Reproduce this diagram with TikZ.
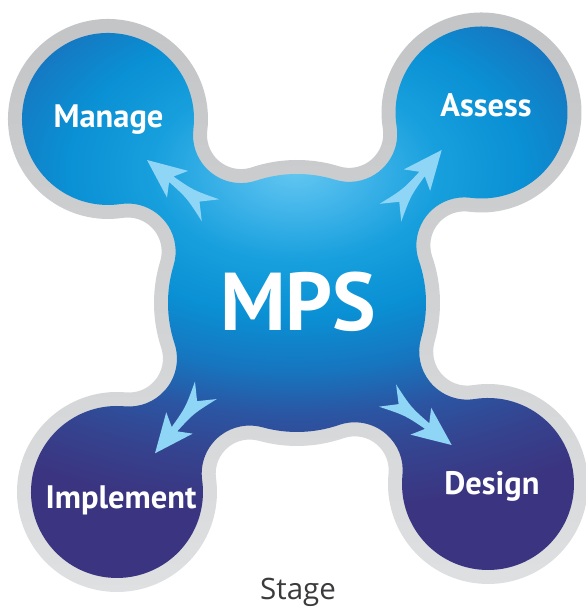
\documentclass[tikz,border=0pt]{standalone}
\usepackage{fontspec}
\setmainfont{PT Sans}
\newfontfamily\stagefont{Open Sans}
\definecolor{hlA}{HTML}{63C7F1}
\definecolor{hlB}{HTML}{44B6EA}
\definecolor{hlC}{HTML}{179FDD}
\definecolor{hlD}{HTML}{0A90D4}
\definecolor{hlE}{HTML}{1676C0}
\definecolor{hlF}{HTML}{2B55A2}
\definecolor{hlG}{HTML}{35438F}
\definecolor{hlH}{HTML}{3B3581}
\definecolor{ringtop}{HTML}{C3C4C6}
\definecolor{ringbot}{HTML}{DFE0E2}
\definecolor{arrowblue}{HTML}{8FD5F6}
\definecolor{stagegray}{HTML}{3B3B3D}
\pgfdeclareradialshading{blobshade}{\pgfpoint{0bp}{0bp}}{%
 color(0bp)=(hlA); color(2.08bp)=(hlB); color(5bp)=(hlC); color(7.92bp)=(hlD);
 color(10.83bp)=(hlE); color(13.33bp)=(hlF); color(15.83bp)=(hlG); color(18.5bp)=(hlH);
 color(50bp)=(hlH)}
\def\ccx{297}\def\ccy{306}
\def\Ak{1.77}\def\Bk{1.34}
\newcommand\mkang[4]{%
 \pgfmathsetmacro\tmpD{veclen((#2-\ccx)/100,(#3-\ccy)/100)}%
 \pgfmathsetmacro\tmpT{atan2(#3-\ccy,#2-\ccx)+#4}%
 \pgfmathsetmacro\tmpP{acos((\tmpD*\tmpD+\Ak*\Ak-\Bk*\Bk)/(2*\tmpD*\Ak))}%
 \pgfmathsetmacro\tmpS{acos((\tmpD*\tmpD+\Bk*\Bk-\Ak*\Ak)/(2*\tmpD*\Bk))}%
 \expandafter\xdef\csname th#1\endcsname{\tmpT}%
 \expandafter\xdef\csname ph#1\endcsname{\tmpP}%
 \expandafter\xdef\csname ps#1\endcsname{\tmpS}%
}
\mkang{A}{481.5}{496.5}{0}
\mkang{M}{108}{490}{0}
\mkang{I}{117}{117}{360}
\mkang{D}{488}{125}{360}
% one lobe: fillet, satellite arc, fillet (#1 = lobe letter, #2 sat radius, #3 fillet radius)
\newcommand\lobe[3]{%
 arc[start angle=\csname th#1\endcsname+180-\csname ph#1\endcsname, end angle=\csname th#1\endcsname+\csname ps#1\endcsname, radius=#3]
 arc[start angle=\csname th#1\endcsname+180+\csname ps#1\endcsname, end angle=\csname th#1\endcsname+540-\csname ps#1\endcsname, radius=#2]
 arc[start angle=\csname th#1\endcsname-\csname ps#1\endcsname, end angle=\csname th#1\endcsname-180+\csname ph#1\endcsname, radius=#3]}
\newcommand\blobpath[3]{%
 (\ccx,\ccy) ++(\thA-\phA:#2)
 \lobe{A}{#1}{#3}
 arc[start angle=\thA+\phA, end angle=\thM-\phM, radius=#2]
 \lobe{M}{#1}{#3}
 arc[start angle=\thM+\phM, end angle=\thI-\phI, radius=#2]
 \lobe{I}{#1}{#3}
 arc[start angle=\thI+\phI, end angle=\thD-\phD, radius=#2]
 \lobe{D}{#1}{#3}
 arc[start angle=\thD+\phD, end angle=\thA+360-\phA, radius=#2] -- cycle}
\tikzset{
 dart/.pic={\fill[arrowblue] (0,0) -- (-39,17) -- (-31,3.5) .. controls (-55,5) .. (-81,14)
   -- (-67,0) -- (-81,-14) .. controls (-55,-5) .. (-31,-3.5) -- (-39,-17) -- cycle;},
 lbl/.style={text=white, inner sep=0pt, anchor=base, font=\bfseries\fontsize{32.5}{32.5}\selectfont}
}
\begin{document}
\begin{tikzpicture}[x=1pt,y=1pt]
\useasboundingbox (0,0) rectangle (585,609);
\shade[top color=ringtop, bottom color=ringbot] \blobpath{100pt}{143pt}{34pt};
\begin{scope}
 \clip \blobpath{86pt}{129pt}{48pt};
 \shade[shading=blobshade] (295,439) ellipse [x radius=720pt, y radius=460pt];
\end{scope}
\coordinate (tipM) at (147,449);
\coordinate (tipA) at (441.7,459);
\coordinate (tipI) at (155,155.7);
\coordinate (tipD) at (451.7,164);
\pic[rotate=141.6] at (tipM) {dart};
\pic[rotate=50.7] at (tipA) {dart};
\pic[rotate=231.1] at (tipI) {dart};
\pic[rotate=-37.6] at (tipD) {dart};
\node[lbl] (manage) at (108.5,481) {Manage};
\node[lbl] (assess) at (486,492.3) {Assess};
\node[lbl] (implement) at (121,100.7) {Implement};
\node[lbl] (design) at (492,114) {Design};
\node[text=white, inner sep=0pt, anchor=base, font=\bfseries\fontsize{82}{82}\selectfont] (mps) at (298,278.3) {MPS};
\node[text=stagegray, inner sep=0pt, anchor=base, font=\stagefont\fontsize{29.5}{29.5}\selectfont] (stage) at (298,9.7) {Stage};
\end{tikzpicture}
\end{document}
